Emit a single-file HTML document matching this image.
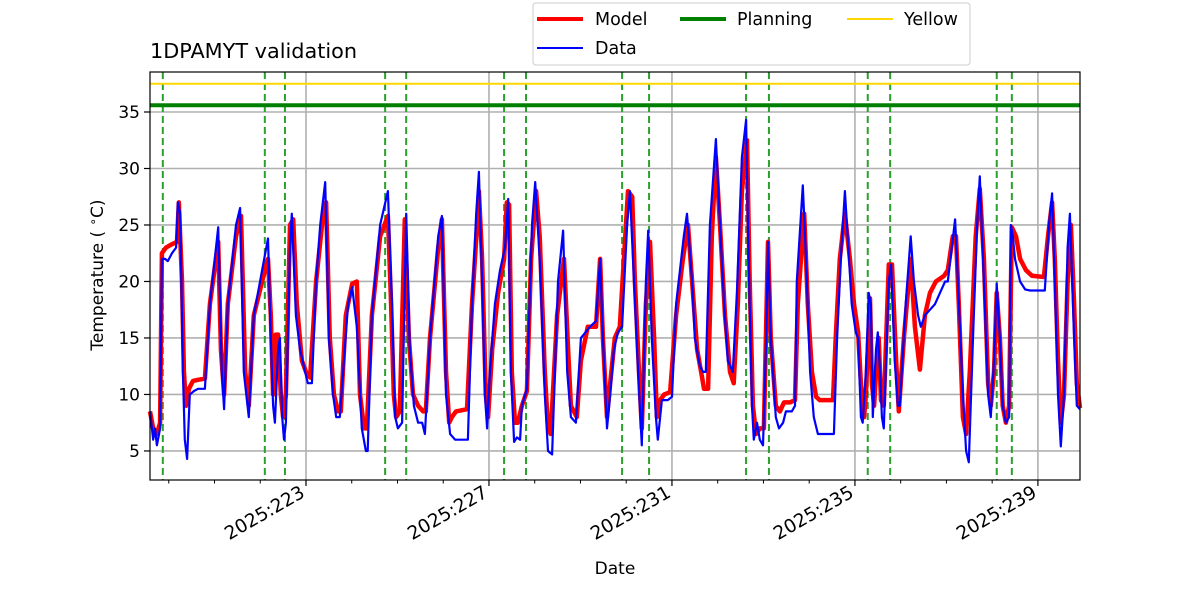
<!DOCTYPE html>
<html><head><meta charset="utf-8"><style>
html,body{margin:0;padding:0;background:#fff;}
svg{display:block;font-family:"DejaVu Sans","Liberation Sans",sans-serif;}
</style></head><body>
<svg id="chart" width="1200" height="600" viewBox="0 0 1200 600" xmlns="http://www.w3.org/2000/svg">
<g id="grid"></g>
<g id="vlines"></g>
<g id="hlines"></g>
<g id="series"></g>
<rect x="150" y="72" width="930" height="408" fill="none" stroke="#000" stroke-width="1.2"/>
<g id="axes"></g>
<text x="150" y="58" font-size="20.8">1DPAMYT validation</text>
<text x="103" y="275" font-size="17" text-anchor="middle" transform="rotate(-90 103 275)">Temperature ( <tspan font-size="12" dy="-6">∘</tspan><tspan dy="6">C)</tspan></text>
<text x="615" y="574" font-size="17" text-anchor="middle">Date</text>
<g>
<rect x="533" y="3" width="437" height="62" rx="3" fill="#fff" stroke="#ccc"/>
<g><line x1="537" y1="19" x2="583" y2="19" stroke="#ff0000" stroke-width="4"/><text x="595" y="25" font-size="17.5">Model</text></g>
<g><line x1="537" y1="48" x2="583" y2="48" stroke="#0000ff" stroke-width="2"/><text x="595" y="54" font-size="17.5">Data</text></g>
<g><line x1="680" y1="19" x2="726" y2="19" stroke="#008000" stroke-width="4"/><text x="737" y="25" font-size="17.5">Planning</text></g>
<g><line x1="847" y1="19" x2="893" y2="19" stroke="#ffd700" stroke-width="2"/><text x="904" y="25" font-size="17.5">Yellow</text></g>
</g>
</svg>
<script>
const dataTimes=[219.59,219.66,219.70,219.74,219.81,219.85,219.92,219.98,220.07,220.16,220.20,220.25,220.31,220.35,220.40,220.46,220.55,220.64,220.79,220.90,221.08,221.16,221.21,221.29,221.47,221.56,221.64,221.75,221.86,222.04,222.17,222.23,222.28,222.32,222.39,222.43,222.48,222.52,222.56,222.65,222.69,222.78,222.87,222.98,223.04,223.13,223.22,223.31,223.42,223.50,223.59,223.66,223.74,223.92,224.01,224.11,224.22,224.31,224.35,224.44,224.62,224.79,224.88,224.95,225.01,225.10,225.19,225.27,225.36,225.45,225.54,225.60,225.71,225.89,225.97,226.06,226.15,226.26,226.54,226.63,226.72,226.78,226.85,226.91,226.96,227.02,227.13,227.24,227.35,227.42,227.48,227.55,227.61,227.68,227.72,227.83,227.94,228.01,228.11,228.22,228.29,228.38,228.51,228.62,228.71,228.79,228.90,229.01,229.21,229.34,229.43,229.49,229.58,229.65,229.73,229.82,229.91,230.02,230.08,230.17,230.26,230.34,230.43,230.48,230.56,230.65,230.69,230.78,230.91,231.00,231.09,231.26,231.33,231.44,231.50,231.61,231.68,231.74,231.83,231.96,232.05,232.14,232.22,232.33,232.42,232.53,232.62,232.66,232.75,232.79,232.86,232.92,232.99,233.06,233.10,233.16,233.27,233.34,233.43,233.49,233.62,233.69,233.73,233.86,233.93,234.02,234.10,234.19,234.45,234.54,234.61,234.69,234.78,234.87,234.93,235.02,235.07,235.13,235.17,235.24,235.30,235.35,235.39,235.46,235.50,235.55,235.59,235.63,235.74,235.79,235.87,235.94,235.98,236.11,236.22,236.29,236.38,236.44,236.53,236.64,236.75,236.86,236.97,237.03,237.19,237.25,237.36,237.43,237.49,237.58,237.67,237.73,237.82,237.91,237.97,238.04,238.10,238.17,238.23,238.30,238.37,238.41,238.45,238.50,238.61,238.72,238.83,239.15,239.24,239.31,239.37,239.44,239.50,239.57,239.65,239.70,239.79,239.85,239.92];
const dataTemps=[8.5,6,7,5.5,7,22,22,21.8,22.5,23,27,26,12,6,4.3,10,10.3,10.5,10.5,18,24.8,12,8.7,18,25,26.5,12,8,17,21,23.8,15,9,7.5,14,15,8,6,7.5,23,26,17,14,12,11,11,20,25,28.8,15,10,8,8,18,19.5,16,7,5,5,17,25,28,18,8,7,7.5,26,14,9,7.5,7.5,6.5,15,24,25.8,10,6.5,6,6,18,26,29.7,20,10,7,12,18,21,23,27.3,12,5.8,6.2,6,9,10.5,25,28.8,22,10,5,4.7,20,24.5,12,8,7.5,15,16,16.5,22,15,7,10,14,15.5,16,25,28,20,12,5.5,20,24.5,15,8,6,9.5,9.5,9.8,18,24,26,20,15,12.5,12,12,25,32.6,25,18,13,12,19,31,34.3,25,9,6,7.5,6,5.5,15,23.5,15,8,7,7.5,8.5,8.5,9,20,28.5,22,12,8,6.5,6.5,6.5,15,22,28,22,18,15.5,15,8,7.5,12,19,18,8,14,15.5,12,8,7,20,21.5,13,9,9,18,24,20,17,16,17,17.5,18,19,20,20,25.5,20,10,5,4,15,25,29.3,20,10,8,13,19.8,15,9,7.5,8,25,24,22,20,19.3,19.2,19.2,25,27.8,20,10,5.4,10,23,26,15,9,8.7];
const modelTimes=[219.59,219.66,219.74,219.81,219.85,219.94,220.07,220.18,220.22,220.29,220.33,220.38,220.44,220.53,220.64,220.79,220.90,221.08,221.14,221.21,221.29,221.47,221.58,221.67,221.75,221.86,222.04,222.17,222.23,222.28,222.34,222.39,222.45,222.50,222.56,222.65,222.72,222.80,222.91,223.00,223.09,223.22,223.35,223.44,223.52,223.61,223.70,223.76,223.87,224.01,224.11,224.18,224.27,224.33,224.44,224.62,224.79,224.86,224.92,224.97,225.05,225.16,225.25,225.34,225.45,225.56,225.62,225.71,225.89,225.97,226.06,226.13,226.19,226.28,226.52,226.63,226.74,226.78,226.85,226.93,226.98,227.07,227.20,227.33,227.39,227.44,227.50,227.57,227.63,227.72,227.83,227.92,228.03,228.11,228.22,228.29,228.35,228.49,228.64,228.73,228.79,228.92,229.01,229.16,229.34,229.43,229.49,229.58,229.65,229.75,229.86,229.95,230.04,230.13,230.19,230.28,230.34,230.43,230.52,230.61,230.67,230.74,230.83,230.96,231.09,231.24,231.35,231.44,231.55,231.66,231.70,231.79,231.87,231.96,232.05,232.16,232.27,232.35,232.44,232.53,232.64,232.70,232.77,232.84,232.92,233.01,233.10,233.16,233.27,233.36,233.45,233.58,233.69,233.75,233.89,233.97,234.06,234.15,234.23,234.52,234.58,234.67,234.78,234.89,234.98,235.07,235.13,235.20,235.24,235.33,235.37,235.42,235.46,235.52,235.57,235.63,235.74,235.81,235.90,235.96,236.07,236.22,236.31,236.42,236.53,236.64,236.77,236.95,237.03,237.14,237.21,237.27,237.36,237.43,237.51,237.64,237.73,237.82,237.91,237.97,238.04,238.10,238.17,238.23,238.30,238.37,238.43,238.52,238.61,238.74,238.87,239.13,239.22,239.31,239.37,239.44,239.50,239.57,239.65,239.72,239.79,239.85,239.92];
const modelTemps=[8.5,7,6.5,7.5,22.5,23,23.3,23.5,27,20,12,9,10.5,11.2,11.3,11.4,18,23.5,14,10,18,24,25.8,12,9,17,20,22,17,10,15.3,15.3,10,8,10,25,25.5,18,13,12,11.5,20,25,27,15,10,8.5,8.5,17,19.8,20,10,7,7,17,24,25.8,18,10,8,8.5,25.5,15,10,9,8.5,8.5,15,23,25.5,12,7.5,8,8.5,8.7,18,25,28,22,10,8,14,19,22,27,26.8,12,7.5,7.5,9,10.3,22,28,24,12,7,6.5,17,22,14,9,8,13,16,16,22,15,8,11,15,16,22,28,27.5,20,12,7,18,23.5,15,8,9.5,10,10.2,17,22,25,20,14,11.5,10.5,10.5,24,31,25,17,12,11,18,28,32.5,20,9,6.5,7,7,23.5,15,9,8.5,9.3,9.3,9.5,18,26,18,12,9.8,9.5,9.5,15,22,26,22,18,15.5,11,8,10,18.5,11,9,12,15,9.5,9,21.5,21.5,13,8.5,15,22,16,12.2,17,19,20,20.5,21,24,24,18,8,6.5,12,24,28.2,22,11,9,12,19,15,9,7.5,9,24.8,24,22,21,20.5,20.4,24,27,22,13,7.5,10,20,25,18,11,8.8];
const planningDays=[219.87,222.10,222.54,224.73,225.19,227.33,227.81,229.91,230.50,232.62,233.12,235.28,235.77,238.10,238.43];
const planningLimit=[35.6];
const yellowLimit=[37.5];
const yTicks=[5,10,15,20,25,30,35];
const xTicks=[223,227,231,235,239];
const xTickLabels=["2025:223","2025:227","2025:231","2025:235","2025:239"];
const minorDays=[220,221,222,224,225,226,228,229,230,232,233,234,236,237,238];

const NS="http://www.w3.org/2000/svg";
const L=150,R=1080,T=72,B=480,D0=219.59,D1=239.92,Y0=2.43,Y1=38.54;
const xs=d=>L+(d-D0)/(D1-D0)*(R-L);
const ys=v=>B-(v-Y0)/(Y1-Y0)*(B-T);
function mk(tag,attrs,parent){const e=document.createElementNS(NS,tag);for(const k in attrs)e.setAttribute(k,attrs[k]);parent.appendChild(e);return e;}
const grid=document.getElementById('grid'),axes=document.getElementById('axes');
yTicks.forEach(v=>{
  const g=mk('line',{x1:L,x2:R,y1:ys(v),y2:ys(v),stroke:'#b0b0b0','stroke-width':1.6},grid);
  
  
  const t=mk('line',{x1:L-6,x2:L,y1:ys(v),y2:ys(v),stroke:'#000','stroke-width':1.2},axes);
  
  
  const lb=mk('text',{x:L-10,y:ys(v)+6,'font-size':17,'text-anchor':'end'},axes);
  lb.textContent=v;
  
  
});
xTicks.forEach((d,i)=>{
  const g=mk('line',{x1:xs(d),x2:xs(d),y1:T,y2:B,stroke:'#b0b0b0','stroke-width':1.6},grid);
  
  
  const t=mk('line',{x1:xs(d),x2:xs(d),y1:B,y2:B+6,stroke:'#000','stroke-width':1.2},axes);
  
  
  const x=xs(d),y=B+16;
  const lb=mk('text',{x:x,y:y,'font-size':18.5,'text-anchor':'end',transform:`rotate(-30 ${x} ${y})`},axes);
  lb.textContent=xTickLabels[i];
  
  
});
minorDays.forEach(d=>{
  const t=mk('line',{x1:xs(d),x2:xs(d),y1:B,y2:B+3.5,stroke:'#000','stroke-width':1},axes);
  
  
});
const vl=document.getElementById('vlines');
planningDays.forEach(d=>{
  const l=mk('line',{x1:xs(d),x2:xs(d),y1:T,y2:B,stroke:'#2ca02c','stroke-width':2,'stroke-dasharray':'7,4'},vl);
  
  
});
const hl=document.getElementById('hlines');
const pl=mk('line',{x1:L,x2:R,y1:ys(planningLimit[0]),y2:ys(planningLimit[0]),stroke:'#008000','stroke-width':4},hl);


const yl=mk('line',{x1:L,x2:R,y1:ys(yellowLimit[0]),y2:ys(yellowLimit[0]),stroke:'#ffd700','stroke-width':2},hl);


const ser=document.getElementById('series');
function path(ts,vs){return ts.map((t,i)=>(i?'L':'M')+xs(t).toFixed(1)+' '+ys(vs[i]).toFixed(1)).join(' ');}
const mp=mk('path',{d:path(modelTimes,modelTemps),fill:'none',stroke:'#ff0000','stroke-width':4.5,'stroke-linejoin':'round'},ser);


const dp=mk('path',{d:path(dataTimes,dataTemps),fill:'none',stroke:'#0000ff','stroke-width':2.2,'stroke-linejoin':'round'},ser);


</script>
</body></html>
